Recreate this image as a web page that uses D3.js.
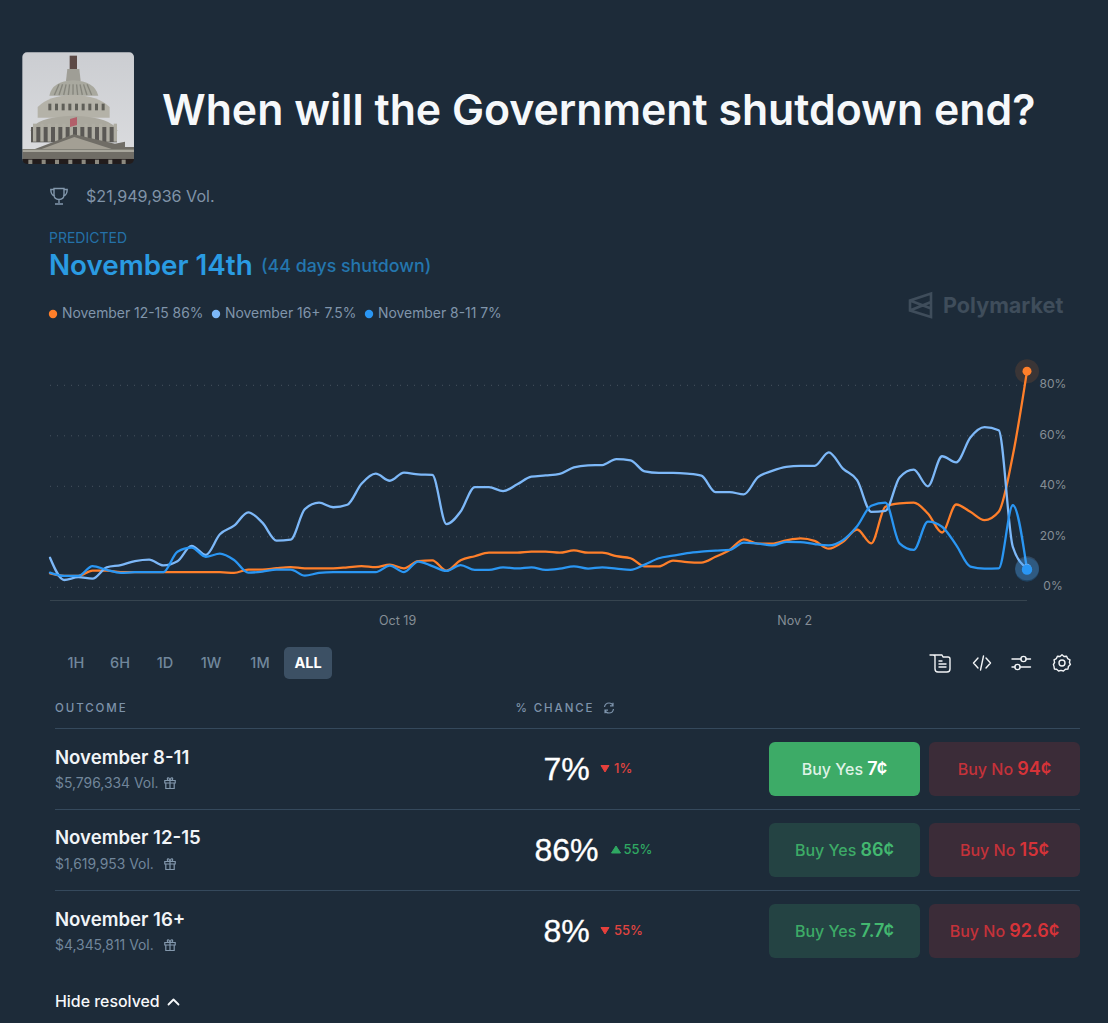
<!DOCTYPE html>
<html>
<head>
<meta charset="utf-8">
<script src="https://cdn.jsdelivr.net/npm/d3@7/dist/d3.min.js"></script>
<style>
html,body{margin:0;padding:0;background:#1d2b39;overflow:hidden}
svg{display:block}
text{font-family:Inter,"Noto Sans",sans-serif}
</style>
</head>
<body>
<div id="chart"></div>
<script>
// ---- data ----
const seriesNames = ["November 12-15", "November 16+", "November 8-11"];
const legendValues = ["86%", "7.5%", "7%"];
const yTickValues = [0, 20, 40, 60, 80];
const xTickDates = ["2025-10-19", "2025-11-02"];
const firstSample = "2025-10-06T18:18:00Z";
const lastSample = "2025-11-10T05:00:00Z";

const nov12to15 = [5.5,4.5,4.5,6.6,6.6,6,6,6,6,6,6,6,6,5.7,7,7,7.6,8,7.5,7.5,7.5,7.9,8.4,8,9,7.5,10.4,10.7,6.6,10.7,12.3,13.7,13.7,13.7,14.1,14.1,13.7,14.6,13.7,13.7,12.3,11.5,8.3,8.3,10.6,10,9.8,12.1,14.8,19,17.3,17.3,18.6,19.4,18.4,15.3,18,22.9,17.4,31.9,33.2,33.5,29.2,21.7,32.8,29.9,26.6,29.9,52.3,85.6];
const nov16plus = [11.7,2.9,4,3.4,7.9,8.8,10.4,11,8.7,10.3,16.4,12.8,21,24.4,29.7,25.6,18.5,18.9,31,33.5,31.7,32.7,41,45,42.2,45.4,44.7,44.5,25,30,39.7,39.7,38.1,40.8,43.8,44.3,44.9,47.5,48.3,48.4,50.8,50.3,45.9,45.3,45.3,45,44.2,37.7,37.7,36.8,43.6,46.1,47.7,48.1,48.1,53.4,47,42.4,29.9,30.3,43.5,46.6,40,51.9,49.5,59.3,63.4,62.2,16,7.5];
const nov8to11 = [5.8,4.5,4.5,8.4,6.9,5.7,6,6,6,14.1,15.7,12.1,13.3,10.8,5.8,6.2,7,7,4.6,5.7,6,6,6,6,8.6,6,10.2,8.4,6.5,8.8,6.9,6.9,7.9,7.5,7.9,6.9,7.4,8.3,7.4,7.9,7.4,6.9,9,11.5,12.5,13.5,14.1,14.5,14.8,17.7,17.3,16.6,18,17.9,17.1,16.6,18.7,24.2,32.3,33.5,17.4,14.8,26,24,16.7,8.2,7.4,7.5,32.5,7];

const rangeLabels = ["1H","6H","1D","1W","1M","ALL"];
const rowNames = ["November 8-11","November 12-15","November 16+"];
const rowVolumes = ["$5,796,334 Vol.","$1,619,953 Vol.","$4,345,811 Vol."];
const rowChance = ["7%","86%","8%"];
const rowDelta = ["1%","55%","55%"];
const rowDeltaUp = [false,true,false];
const rowYes = ["7¢","86¢","7.7¢"];
const rowNo = ["94¢","15¢","92.6¢"];

// ---- style ----
const BG="#1d2b39", ORANGE="#ff7f2a", LIGHT="#7db8f8", BLUE="#2a96f3";
const svg=d3.select("#chart").append("svg").attr("width",1108).attr("height",1023).attr("viewBox","0 0 1108 1023");
svg.append("rect").attr("width",1108).attr("height",1023).attr("fill",BG);
const defs=svg.append("defs");
const T=(x,y,s,size,fill,weight,anchor)=>svg.append("text").attr("x",x).attr("y",y).text(s)
  .attr("font-size",size).attr("fill",fill).attr("font-weight",weight||400).attr("text-anchor",anchor||"start");

// ---- capitol thumbnail (vector sketch) ----
const grad=defs.append("linearGradient").attr("id","sky").attr("x1",0).attr("x2",0).attr("y1",0).attr("y2",1);
grad.append("stop").attr("offset",0).attr("stop-color","#cbcdd1");
grad.append("stop").attr("offset",1).attr("stop-color","#dcdde0");
defs.append("clipPath").attr("id","thumb").append("rect").attr("x",22).attr("y",22).attr("width",335).attr("height",335).attr("rx",14);
defs.append("filter").attr("id","soft").append("feGaussianBlur").attr("stdDeviation",2);
const capOuter=svg.append("g").attr("transform","translate(15,45) scale(0.3333)").attr("clip-path","url(#thumb)");
const cap=capOuter.append("g").attr("filter","url(#soft)");
cap.append("rect").attr("x",10).attr("y",10).attr("width",360).attr("height",360).attr("fill","url(#sky)");
const P=(d,f)=>cap.append("path").attr("d",d).attr("fill",f);
P("M164,32H186V72H164Z","#5b4a44");
P("M157,72H193L197,108H153Z","#9f9e96");
P("M103,152Q112,108 175,106Q238,108 250,152Z","#a9a99f");
d3.range(118,240,14).forEach(x=>cap.append("line").attr("x1",x).attr("x2",175+(x-175)*0.75).attr("y1",150).attr("y2",118).attr("stroke","#86867d").attr("stroke-width",4));
P("M68,218V186Q100,152 175,149Q250,152 284,186V218Z","#b4b2a8");
d3.range(100,270,20).forEach(x=>cap.append("rect").attr("x",x).attr("y",176).attr("width",9).attr("height",20).attr("fill","#5f5e59"));
P("M46,258Q58,216 175,212Q292,216 308,258Z","#aaa89e");
cap.append("rect").attr("x",48).attr("y",246).attr("width",258).attr("height",46).attr("fill","#5a5854");
d3.range(54,304,22).forEach(x=>cap.append("rect").attr("x",x).attr("y",236).attr("width",10).attr("height",54).attr("fill","#aeaca2"));
P("M165,222L186,216V240L165,246Z","#b25f6a");
P("M22,312H60L176,268L300,296L330,290V306H357V360H22Z","#6f6d66");
P("M80,312L178,276L290,312Z","#a39f94");
cap.append("rect").attr("x",22).attr("y",314).attr("width",335).attr("height",7).attr("fill","#a9a79d");
cap.append("rect").attr("x",22).attr("y",342).attr("width",335).attr("height",20).attr("fill","#211e1d");
d3.range(40,350,40).forEach(x=>cap.append("rect").attr("x",x).attr("y",344).attr("width",12).attr("height",16).attr("fill","#8d8a80"));

// ---- header ----
T(162,125,"When will the Government shutdown end?",42.8,"#f6f8fa",600);
const trophy=svg.append("g").attr("transform","translate(50,187)").attr("fill","none").attr("stroke","#8398ad").attr("stroke-width",1.4);
trophy.append("path").attr("d","M4,1.5H14V7.5C14,11 11.5,12.5 9,12.5C6.5,12.5 4,11 4,7.5ZM4,2.5H0.8C0.8,6.5 2,8.5 5,9.5M14,2.5H17.2C17.2,6.5 16,8.5 13,9.5M9,12.5V16M5,17H13");
T(86,202,"$21,949,936 Vol.",16.1,"#8093a8");
T(49,243,"PREDICTED",14,"#2471a8");
T(49,275,"November 14th",27.8,"#2a9be2",600);
T(261,272,"(44 days shutdown)",17.8,"#2476ae",500);

// ---- legend ----
const legendColors=[ORANGE,LIGHT,BLUE];
const legendX=[62,225,378];
seriesNames.forEach((n,i)=>{
  svg.append("circle").attr("cx",legendX[i]-9).attr("cy",314).attr("r",4.2).attr("fill",legendColors[i]);
  T(legendX[i],318,n+" "+legendValues[i],13.9,"#8095ab");
});

// ---- watermark ----
const wm=svg.append("g").attr("transform","translate(908,291)").attr("fill","none").attr("stroke","#3f4d5b").attr("stroke-width",2.6);
wm.append("path").attr("d","M2,9.5L23,2.5V26L2,19.5ZM2,9.5L23,17.5M2,19.5L23,11");
T(943,313,"Polymarket",21.6,"#3f4d5b",700);

// ---- chart ----
const x=d3.scaleUtc().domain([new Date(firstSample),new Date(lastSample)]).range([50,1027]);
const y=d3.scaleLinear().domain([0,80]).range([587.3,385.3]);
const nPts=nov8to11.length;
const t0=+new Date(firstSample), t1=+new Date(lastSample);
const sampleDates=d3.range(nPts).map(i=>new Date(t0+i*(t1-t0)/(nPts-1)));

const grid=svg.append("g");
grid.selectAll("line").data(yTickValues).join("line")
  .attr("x1",50).attr("x2",1027).attr("y1",d=>y(d)).attr("y2",d=>y(d))
  .attr("stroke","#46535f").attr("stroke-width",1).attr("stroke-dasharray","1 6");
svg.append("line").attr("x1",50).attr("x2",1027).attr("y1",600.5).attr("y2",600.5).attr("stroke","#36444f").attr("stroke-width",1);

const yAxis=svg.append("g").attr("transform","translate(1053,-1.5)")
  .call(d3.axisRight(y).tickValues(yTickValues).tickSize(0).tickPadding(0).tickFormat(d=>d+"%"));
yAxis.select(".domain").remove();
yAxis.selectAll("text").attr("text-anchor","middle").attr("font-size",12).attr("fill","#858e96").attr("font-family","Inter");

const xAxis=svg.append("g").attr("transform","translate(0,600.5)")
  .call(d3.axisBottom(x).tickValues(xTickDates.map(d=>new Date(d+"T00:00:00Z"))).tickSize(0).tickPadding(15.5).tickFormat(d3.utcFormat("%b %-d")));
xAxis.select(".domain").remove();
xAxis.selectAll("text").attr("font-size",12.5).attr("fill","#858e96").attr("font-family","Inter");

const line=d3.line().x((d,i)=>x(sampleDates[i])).y(d=>y(d)).curve(d3.curveMonotoneX);
const drawn=[[nov12to15,ORANGE],[nov16plus,LIGHT],[nov8to11,BLUE]];
drawn.forEach(([vals,c])=>svg.append("path").attr("d",line(vals)).attr("fill","none").attr("stroke",c).attr("stroke-width",2.3).attr("stroke-linejoin","round").attr("stroke-linecap","round"));
drawn.forEach(([vals,c])=>{
  const cx=x(sampleDates[nPts-1]), cy=y(vals[nPts-1]);
  svg.append("circle").attr("cx",cx).attr("cy",cy).attr("r",12).attr("fill",c).attr("opacity",c===ORANGE?0.13:0.22);
  svg.append("circle").attr("cx",cx).attr("cy",cy).attr("r",c===BLUE?5.2:4.5).attr("fill",c);
});

// ---- range buttons & tool icons ----
svg.append("rect").attr("x",284).attr("y",647).attr("width",48).attr("height",32).attr("rx",5).attr("fill","#3c5064");
const rangeX=[76,120,165,211,260,308];
rangeLabels.forEach((s,i)=>T(rangeX[i],668,s,14.5,i===5?"#fff":"#71879c",i===5?700:500,"middle"));

const icon=(tx,d)=>svg.append("g").attr("transform",`translate(${tx},654)`).append("path").attr("d",d)
  .attr("fill","none").attr("stroke","#f2f4f6").attr("stroke-width",1.4).attr("stroke-linecap","round").attr("stroke-linejoin","round");
icon(930,"M0,1H12L13,3H18C19,3 20,4 20,5V15C20,17 19,18 17,18H8C6,18 5,17 5,15V2.5C5,1.5 4,1 3,1M9,7H12M9,10H16M9,13H16");
icon(973,"M5,4L0.5,9L5,14M13,4L17.5,9L13,14M10.5,2L7.5,16");
icon(1012,"M0,5H9M14,5H18.5M0,13H3M8,13H18.5");
svg.append("g").attr("fill","none").attr("stroke","#f2f4f6").attr("stroke-width",1.4).selectAll("circle")
  .data([[1023.5,659],[1017.5,667]]).join("circle").attr("cx",d=>d[0]).attr("cy",d=>d[1]).attr("r",2.6);
icon(1053,"M9,0.8L11,2.5L13.6,2.2L14.6,4.6L17,5.8L16.4,8.4L17.4,10.6L15.4,12.4L15,15L12.4,15.2L10.4,17L8,16.4L5.6,17L3.6,15.2L1.4,15L1,12.4L0.4,10.6L1.6,8.4L1,5.8L3.4,4.6L4.4,2.2L7,2.5Z");
svg.append("circle").attr("cx",1062).attr("cy",663).attr("r",3).attr("fill","none").attr("stroke","#f2f4f6").attr("stroke-width",1.4);

// ---- table ----
const head=(x0,s)=>T(x0,712,s,11.5,"#7d93ab",500).attr("letter-spacing",1.9);
head(55,"OUTCOME"); head(515.5,"% CHANCE");
svg.append("g").attr("transform","translate(603,702)").append("path")
  .attr("d","M1.5,5C2,2 4,1 6,1C8,1 9.5,2 10,3.5M10,0.8V3.8H7M10.5,7C10,10 8,11 6,11C4,11 2.5,10 2,8.5M2,11.2V8.2H5")
  .attr("fill","none").attr("stroke","#7d93ab").attr("stroke-width",1.2);

const rowTop=[742,823,904];
const nameDy=[21.5,21,22];
[728.5,809.5,890.5].forEach(v=>svg.append("line").attr("x1",55).attr("x2",1080).attr("y1",v).attr("y2",v).attr("stroke","#35495c"));
const RED="#c4323a", GREEN="#3dab67";
rowNames.forEach((n,i)=>{
  const t=rowTop[i];
  T(55,t+nameDy[i],n,18.6,"#f1f4f7",600);
  T(55,t+46,rowVolumes[i],13.9,"#71869b");
  const gift=svg.append("g").attr("transform",`translate(164,${t+35})`).attr("fill","none").attr("stroke","#8398ad").attr("stroke-width",1.2);
  gift.append("path").attr("d","M0.8,3.5H11.2V6H0.8ZM1.8,6V11.5H10.2V6M6,3.5V11.5M6,3.5C4,3.5 3,2.5 3.4,1.3C4,0 5.6,1 6,3.5C6.4,1 8,0 8.6,1.3C9,2.5 8,3.5 6,3.5");
  T(566.5,t+38,rowChance[i],32,"#ffffff",400,"middle").style("font-family","'Liberation Sans'").attr("stroke","#fff").attr("stroke-width",0.35);
  const up=rowDeltaUp[i];
  const dx=[605,616,605][i], dy=t+26.5;
  const col=up?"#2fa862":"#e6403c";
  svg.append("path").attr("d",up?`M${dx-4.5},${dy+3.5}L${dx},${dy-3.5}L${dx+4.5},${dy+3.5}Z`:`M${dx-4},${dy-3}H${dx+4}L${dx},${dy+3.5}Z`).attr("fill",col).attr("stroke",col).attr("stroke-linejoin","round");
  T(dx+(up?7.5:9),dy+4.5,rowDelta[i],13,up?"#2fa862":"#e04440",500);
  // buttons
  svg.append("rect").attr("x",769).attr("y",t).attr("width",151).attr("height",54).attr("rx",6).attr("fill",i==0?GREEN:"#244343");
  svg.append("rect").attr("x",929).attr("y",t).attr("width",151).attr("height",54).attr("rx",6).attr("fill","#3b2c38");
  const yes=T(844.5,t+32.5,"",16,i==0?"#dff2e6":GREEN,500,"middle");
  yes.append("tspan").text("Buy Yes ");
  yes.append("tspan").text(rowYes[i]).attr("font-size",18).attr("font-weight",600).attr("fill",i==0?"#fff":"#43b870");
  const no=T(1004.5,t+32.5,"",16,RED,500,"middle");
  no.append("tspan").text("Buy No ");
  no.append("tspan").text(rowNo[i]).attr("font-size",18).attr("font-weight",600).attr("fill","#d63338");
});

T(55,1007,"Hide resolved",15.9,"#f6f8fa",500);
svg.append("path").attr("d","M168.5,1004.5L173.5,999.5L178.5,1004.5").attr("fill","none").attr("stroke","#f6f8fa").attr("stroke-width",1.8).attr("stroke-linecap","round").attr("stroke-linejoin","round");
</script>
</body>
</html>
